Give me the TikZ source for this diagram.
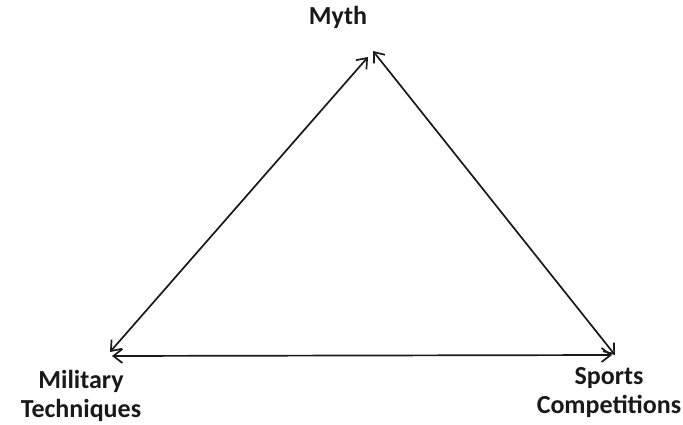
\documentclass[tikz,border=0pt]{standalone}
\usepackage{fontspec}
\setmainfont{Carlito}
\usetikzlibrary{arrows.meta}
\begin{document}
\begin{tikzpicture}[x=1pt,y=-1pt,
  lbl/.style={font=\bfseries\fontsize{26}{29}\selectfont, text=black!90, align=center, inner sep=0pt},
  link/.style={draw=black!90, line width=1.7pt, {Straight Barb[length=9pt,width=14pt]}-{Straight Barb[length=9pt,width=14pt]}}]
\useasboundingbox (0,0) rectangle (683,425);
\node[lbl] (myth) at (338,17) {Myth};
\node[lbl] (mil) at (81,396) {Military\\Techniques};
\node[lbl] (spo) at (609,393) {Sports\\Competitions};
\coordinate (mL) at (368,57);
\coordinate (mR) at (373,51);
\coordinate (lT) at (110,352);
\coordinate (lB) at (112,356);
\coordinate (rT) at (615,355);
\coordinate (rB) at (612,355);
\draw[link] (lT) -- (mL);
\draw[link] (mR) -- (rT);
\draw[link] (lB) -- (rB);
\end{tikzpicture}
\end{document}
